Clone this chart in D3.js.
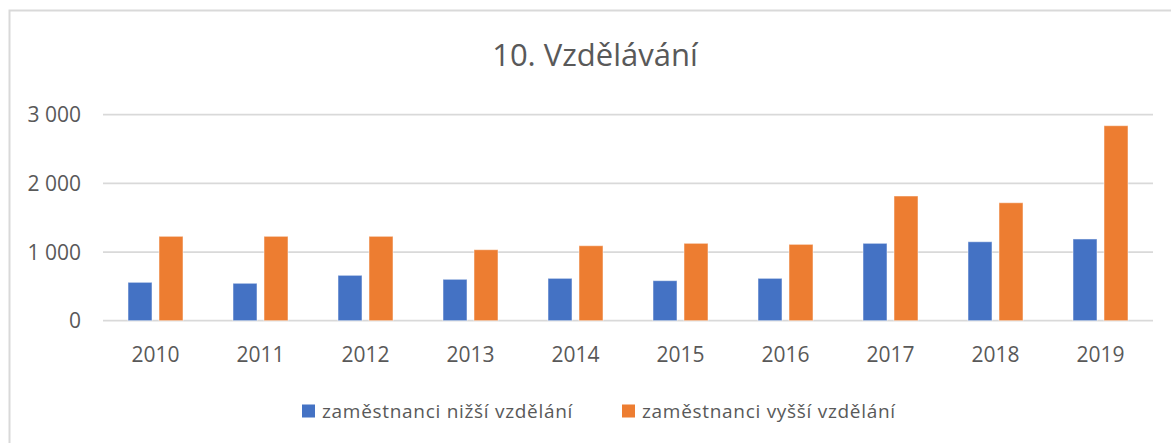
<!DOCTYPE html>
<html>
<head>
<meta charset="utf-8">
<script src="https://cdn.jsdelivr.net/npm/d3@7"></script>
<style>
  body { margin: 0; background: #fff; }
  text { font-family: "Open Sans", sans-serif; fill: #595959; }
</style>
</head>
<body>
<script>
// chart size
var width = 1171;
var height = 443;

// data
var years = ["2010", "2011", "2012", "2013", "2014", "2015", "2016", "2017", "2018", "2019"];
var seriesNames = ["zaměstnanci nižší vzdělání", "zaměstnanci vyšší vzdělání"];
var lowerEdu = [559, 545, 661, 603, 617, 583, 617, 1127, 1150, 1190];
var higherEdu = [1229, 1229, 1229, 1034, 1092, 1127, 1112, 1816, 1718, 2840];
var yTicks = [0, 1000, 2000, 3000];
var colors = ["#4472C4", "#ED7D31"];

var rows = years.map(function(y, i) {
  return { year: y, values: [lowerEdu[i], higherEdu[i]] };
});

var svg = d3.select("body")
  .append("svg")
  .attr("width", width)
  .attr("height", height);

// outer chart border (only top and left visible in the crop)
svg.append("rect")
  .attr("x", 9.5)
  .attr("y", 10.5)
  .attr("width", 1200)
  .attr("height", 500)
  .attr("fill", "none")
  .attr("stroke", "#d9d9d9")
  .attr("stroke-width", 2);

// title
svg.append("text")
  .attr("x", 595)
  .attr("y", 66)
  .attr("text-anchor", "middle")
  .style("font-size", "31px")
  .text("10. Vzdělávání");

// scales
var x0 = d3.scaleBand()
  .domain(years)
  .range([103, 1153]);

var x1 = d3.scaleBand()
  .domain([0, 1])
  .range([0, 55])
  .paddingInner(0.2258);

var y = d3.scaleLinear()
  .domain([0, 3000])
  .range([320.7, 114.7]);

var fmt = function(d) { return d3.format(",")(d).replace(/,/g, " "); };

// gridlines
svg.append("g")
  .selectAll("line")
  .data(yTicks)
  .enter()
  .append("line")
  .attr("x1", 103)
  .attr("x2", 1153)
  .attr("y1", function(d) { return y(d); })
  .attr("y2", function(d) { return y(d); })
  .attr("stroke", "#d9d9d9")
  .attr("stroke-width", 1.8);

// y axis labels
svg.append("g")
  .selectAll("text")
  .data(yTicks)
  .enter()
  .append("text")
  .attr("x", 81)
  .attr("y", function(d) { return y(d); })
  .attr("dy", "0.36em")
  .attr("text-anchor", "end")
  .style("font-size", "21px")
  .text(fmt);

// x axis labels
svg.append("g")
  .selectAll("text")
  .data(years)
  .enter()
  .append("text")
  .attr("x", function(d) { return x0(d) + x0.bandwidth() / 2; })
  .attr("y", 361.5)
  .attr("text-anchor", "middle")
  .style("font-size", "21px")
  .text(function(d) { return d; });

// bars
var groups = svg.append("g")
  .selectAll("g")
  .data(rows)
  .enter()
  .append("g")
  .attr("transform", function(d) {
    return "translate(" + (x0(d.year) + (x0.bandwidth() - 55) / 2) + ",0)";
  });

groups.selectAll("rect")
  .data(function(d) { return d.values; })
  .enter()
  .append("rect")
  .attr("x", function(d, i) { return x1(i); })
  .attr("y", function(d) { return y(d); })
  .attr("width", x1.bandwidth())
  .attr("height", function(d) { return y(0) - y(d); })
  .attr("fill", function(d, i) { return colors[i]; })
  .attr("stroke", "#fff")
  .attr("stroke-opacity", 0.5)
  .attr("stroke-width", 1);

// legend
var legendX = [302, 622];
var legend = svg.append("g")
  .selectAll("g")
  .data(seriesNames)
  .enter()
  .append("g")
  .attr("transform", function(d, i) { return "translate(" + legendX[i] + ",0)"; });

legend.append("rect")
  .attr("x", 0)
  .attr("y", 404.5)
  .attr("width", 13)
  .attr("height", 13)
  .attr("fill", function(d, i) { return colors[i]; });

legend.append("text")
  .attr("x", 20)
  .attr("y", 418)
  .style("font-size", "19px")
  .style("letter-spacing", "0.7px")
  .text(function(d) { return d; });
</script>
</body>
</html>
